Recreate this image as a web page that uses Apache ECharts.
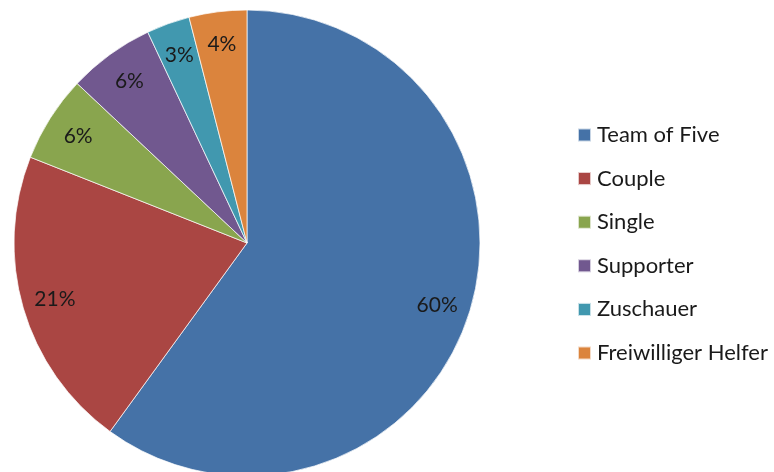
<!DOCTYPE html>
<html>
<head>
<meta charset="utf-8">
<script src="https://cdn.jsdelivr.net/npm/echarts@6/dist/echarts.min.js"></script>
<style>
  html, body { margin: 0; padding: 0; background: #fff; }
  #chart { width: 774px; height: 472px; }
</style>
</head>
<body>
<div id="chart"></div>
<script>
// Participant groups and their shares (percent)
const categories = ['Team of Five', 'Couple', 'Single', 'Supporter', 'Zuschauer', 'Freiwilliger Helfer'];
const shares = [60, 21, 6, 6, 3, 4];
const colors = ['#4572A7', '#AA4643', '#89A54E', '#71588F', '#4198AF', '#DB843D'];

const data = categories.map((name, i) => ({ name, value: shares[i] }));
const font = 'Lato, "Open Sans", sans-serif';

const chart = echarts.init(document.getElementById('chart'), null, { renderer: 'canvas' });
chart.setOption({
  animation: false,
  color: colors,
  legend: {
    orient: 'vertical',
    left: 572,
    top: 119,
    icon: 'rect',
    itemWidth: 13,
    itemHeight: 13,
    itemGap: 21.6,
    textStyle: { fontFamily: font, fontSize: 22, color: '#1a1a1a', lineHeight: 20, padding: [0, 0, 0, 1] },
    data: categories
  },
  series: [
    {
      type: 'pie',
      center: [247, 243],
      radius: 233,
      startAngle: 90,
      clockwise: true,
      silent: true,
      label: { show: false },
      labelLine: { show: false },
      itemStyle: { borderColor: 'rgba(255,255,255,0.7)', borderWidth: 1 },
      data: data
    },
    {
      // label ring: places the percentage text at ~85% of the radius
      type: 'pie',
      center: [247, 243],
      radius: [161, 233],
      startAngle: 90,
      clockwise: true,
      silent: true,
      legendHoverLink: false,
      itemStyle: { color: 'rgba(0,0,0,0)' },
      label: {
        show: true,
        position: 'inside',
        formatter: '{c}%',
        fontFamily: font,
        fontSize: 21,
        color: '#1a1a1a'
      },
      labelLine: { show: false },
      data: data
    }
  ]
});
</script>
</body>
</html>
